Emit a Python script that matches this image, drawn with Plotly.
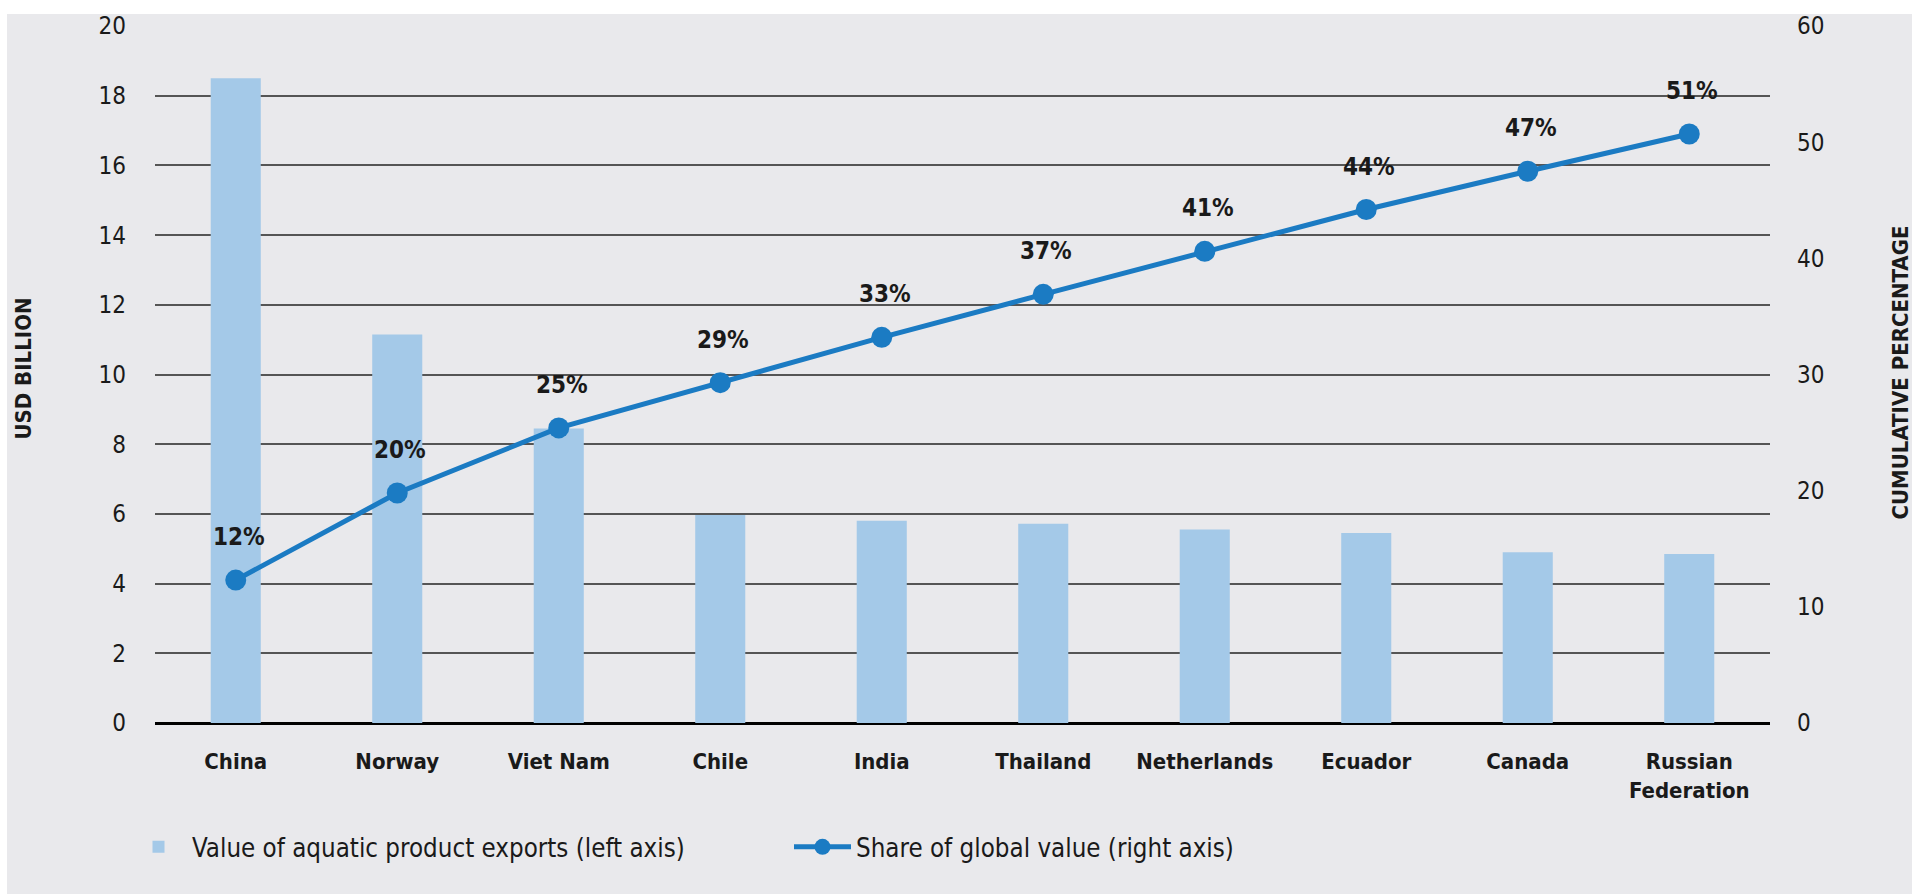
import plotly.graph_objects as go

countries = ["China", "Norway", "Viet Nam", "Chile", "India", "Thailand",
             "Netherlands", "Ecuador", "Canada", "Russian<br>Federation"]
export_value = [18.5, 11.15, 8.45, 5.97, 5.8, 5.72, 5.55, 5.45, 4.9, 4.85]
cum_share = [12.3, 19.8, 25.4, 29.3, 33.2, 36.9, 40.6, 44.2, 47.5, 50.7]
share_labels = ["12%", "20%", "25%", "29%", "33%", "37%", "41%", "44%", "47%", "51%"]
left_ticks = [0, 2, 4, 6, 8, 10, 12, 14, 16, 18, 20]
right_ticks = [0, 10, 20, 30, 40, 50, 60]

FONT = "Liberation Sans Narrow, DejaVu Sans Condensed, Roboto, Arial Narrow, sans-serif"
BAR_COLOR = "#A4C9E8"
LINE_COLOR = "#1B7BC3"
BG = "#E9E9EC"
TXT = "#1a1a1a"

W, H = 1927, 894
ML, MR, MT, MB = 155, 157, 21, 171
PW, PH = W - ML - MR, H - MT - MB


def px(x):
    return (x - ML) / PW


def py(y):
    return (H - MB - y) / PH


fig = go.Figure()
fig.add_trace(go.Bar(
    x=countries, y=export_value, name="Value of aquatic product exports (left axis)",
    marker=dict(color=BAR_COLOR, line=dict(width=0)), width=0.31, yaxis="y",
))
fig.add_trace(go.Scatter(
    x=countries, y=cum_share, name="Share of global value (right axis)",
    mode="lines+markers", line=dict(color=LINE_COLOR, width=5),
    marker=dict(color=LINE_COLOR, size=21), yaxis="y2",
))

for c, v, t in zip(countries, cum_share, share_labels):
    fig.add_annotation(x=c, y=v, xref="x", yref="y2", text=t, showarrow=False,
                       yshift=43, xshift=3,
                       font=dict(family=FONT, size=24, color=TXT, weight="bold"))

fig.add_annotation(x=px(24), y=py(366), xref="paper", yref="paper", text="USD BILLION",
                   textangle=-90, showarrow=False, xanchor="center", yanchor="middle",
                   font=dict(family=FONT, size=22, color=TXT, weight="bold"))
fig.add_annotation(x=px(1901), y=py(370), xref="paper", yref="paper",
                   text="CUMULATIVE PERCENTAGE", textangle=-90, showarrow=False,
                   xanchor="center", yanchor="middle",
                   font=dict(family=FONT, size=22, color=TXT, weight="bold"))

fig.add_shape(type="rect", xref="paper", yref="paper",
              x0=px(7), x1=px(1912), y0=py(H + 20), y1=py(9),
              fillcolor=BG, line=dict(width=0), layer="below")

fig.update_layout(
    width=W, height=H,
    margin=dict(l=ML, r=MR, t=MT, b=MB),
    paper_bgcolor="white", plot_bgcolor="rgba(0,0,0,0)",
    font=dict(family=FONT, color=TXT),
    bargap=0.69,
    showlegend=True,
    legend=dict(orientation="h", x=-30 / PW, xanchor="left", y=py(848), yanchor="middle",
                font=dict(family=FONT, size=25.7, color=TXT),
                itemwidth=57, entrywidth=592, entrywidthmode="pixels",
                bgcolor="rgba(0,0,0,0)", traceorder="normal"),
    xaxis=dict(range=[-0.5, 9.5], showgrid=False, zeroline=False, showline=False,
               ticks="", ticklabelstandoff=23,
               tickfont=dict(family=FONT, size=22, color=TXT, weight="bold")),
    yaxis=dict(range=[0, 20], tickvals=left_ticks, showgrid=True, gridcolor="#555555",
               gridwidth=1.5, zeroline=True, zerolinecolor="#000000", zerolinewidth=3,
               showline=False, ticks="", ticklabelstandoff=28,
               tickfont=dict(family=FONT, size=24, color=TXT)),
    yaxis2=dict(range=[0, 60], tickvals=right_ticks, overlaying="y", side="right",
                showgrid=False, zeroline=False, showline=False, ticks="",
                ticklabelstandoff=26,
                tickfont=dict(family=FONT, size=24, color=TXT)),
)

fig.write_html("out.html")
